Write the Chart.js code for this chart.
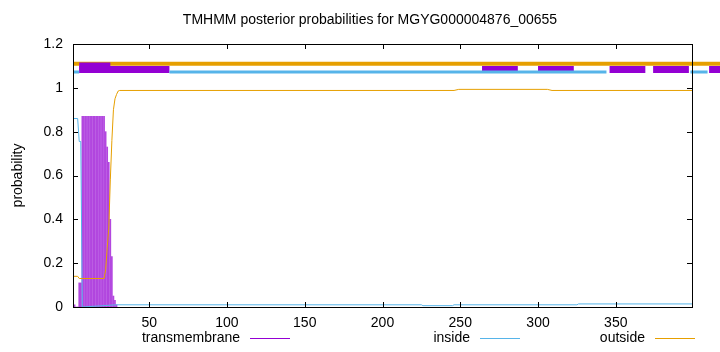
<!DOCTYPE html>
<html>
<head>
<meta charset="utf-8">
<script src="https://cdn.jsdelivr.net/npm/chart.js@4.4.0/dist/chart.umd.min.js"></script>
<style>
    html, body { margin: 0; padding: 0; background: #fff; }
    #wrap { width: 720px; height: 352px; }
</style>
</head>
<body>
<div id="wrap"><canvas id="tmhmmChart" width="720" height="352"></canvas></div>
<script>
const chartTitle = 'TMHMM posterior probabilities for MGYG000004876_00655';
const seqStart = 1;
const seqEnd = 399;
const xTicks = [50, 100, 150, 200, 250, 300, 350];
const yTicks = [0, 0.2, 0.4, 0.6, 0.8, 1, 1.2];

// prawdopodobienstwo TM dla kazdej reszty (dalej ~0)
const tmResidues = [1, 2, 3, 4, 5, 6, 7, 8, 9, 10, 11, 12, 13, 14, 15, 16, 17, 18, 19, 20, 21, 22, 23, 24, 25, 26, 27, 28, 29];
const tmProb = [0, 0.01, 0, 0, 0.11, 0.11, 0.87, 0.87, 0.87, 0.87, 0.87, 0.87, 0.87, 0.87, 0.87, 0.87, 0.87, 0.87, 0.87, 0.87, 0.87, 0.8, 0.73, 0.66, 0.4, 0.23, 0.05, 0.03, 0.01];

// inside / outside - punkty zalamania linii
const insideX = [1, 4, 5, 6, 7, 29, 225, 226, 245, 246, 325, 326, 399];
const insideY = [0.86, 0.86, 0.755, 0.755, 0, 0.01, 0.01, 0.006, 0.006, 0.01, 0.01, 0.014, 0.014];
const outsideX = [1, 4, 5, 21, 22, 23, 24, 25, 26, 27, 28, 29, 30, 31, 246, 249, 306, 309, 399];
const outsideY = [0.14, 0.14, 0.13, 0.13, 0.17, 0.27, 0.36, 0.58, 0.76, 0.9, 0.95, 0.97, 0.985, 0.988, 0.988, 0.993, 0.993, 0.988, 0.988];

// przewidziana topologia (paski u gory)
const outsideTopSpans = [[1, 420]];
const tmTopSpans = [[5, 63], [264, 287], [300, 323], [346, 369], [374, 397], [410, 420]];
const tmTopTallSpans = [[5, 25]];
const insideTopSpans = [[1, 5], [63, 344], [398, 409]];
const outsideTopLevel = 1.11;
const tmTopLevel = 1.0836;
const tmTopTallLevel = 1.0916;
const insideTopLevel = 1.0722;

const colTM = '#9400D3';
const colInside = '#56B4E9';
const colOutside = '#E69F00';
const fontFamily = '"Liberation Sans", Arial, sans-serif';

// odcinki od prawej do lewej - dane nieposortowane, wiec Chart.js rysuje tez czesc poza osia
function spansToPoints(spans, level) {
    const pts = [];
    spans.slice().reverse().forEach(([a, b]) => {
        pts.push({ x: a, y: level }, { x: b, y: level }, { x: b, y: null });
    });
    return pts;
}

function topBar(spans, level, color, width, order) {
    return {
        type: 'line',
        label: '',
        data: spansToPoints(spans, level),
        borderColor: color,
        borderWidth: width,
        borderCapStyle: 'butt',
        pointRadius: 0,
        spanGaps: false,
        clip: false,
        order: order
    };
}

// ramka, znaczniki osi, tytul i legenda w stylu gnuplota
const gnuplotFrame = {
    id: 'gnuplotFrame',
    afterDatasetsDraw(chart) {
        const { ctx, chartArea: a, scales: { x, y } } = chart;
        ctx.save();
        ctx.strokeStyle = '#000';
        ctx.lineWidth = 1;
        ctx.beginPath();
        xTicks.forEach(v => {
            const px = Math.round(x.getPixelForValue(v)) + 0.5;
            ctx.moveTo(px, a.bottom); ctx.lineTo(px, a.bottom - 5);
            ctx.moveTo(px, a.top); ctx.lineTo(px, a.top + 5);
        });
        yTicks.forEach(v => {
            const py = Math.round(y.getPixelForValue(v)) + 0.5;
            ctx.moveTo(a.left, py); ctx.lineTo(a.left + 5, py);
            ctx.moveTo(a.right, py); ctx.lineTo(a.right - 5, py);
        });
        ctx.stroke();
        ctx.strokeRect(a.left + 0.5, a.top + 0.5, a.right - a.left, a.bottom - a.top);
        ctx.restore();
    },
    afterDraw(chart) {
        const ctx = chart.ctx;
        const entries = [
            { label: 'transmembrane', color: colTM, right: 240 },
            { label: 'inside', color: colInside, right: 470 },
            { label: 'outside', color: colOutside, right: 645 }
        ];
        ctx.save();
        ctx.font = '14px ' + fontFamily;
        ctx.fillStyle = '#000';
        ctx.textBaseline = 'middle';
        ctx.textAlign = 'center';
        ctx.fillText(chartTitle, 370, 20);
        ctx.textAlign = 'right';
        entries.forEach(e => {
            ctx.fillStyle = '#000';
            ctx.fillText(e.label, e.right, 338);
            ctx.strokeStyle = e.color;
            ctx.lineWidth = 1;
            ctx.beginPath();
            ctx.moveTo(e.right + 10, 338.5);
            ctx.lineTo(e.right + 50, 338.5);
            ctx.stroke();
        });
        ctx.restore();
    }
};

const ctx = document.getElementById('tmhmmChart').getContext('2d');

new Chart(ctx, {
    type: 'line',
    data: {
        datasets: [
            {
                type: 'bar',
                label: 'transmembrane',
                data: tmResidues.map((r, i) => ({ x: r, y: tmProb[i] })),
                backgroundColor: 'rgba(148, 0, 211, 0.72)',
                barThickness: 1,
                grouped: false,
                order: 6
            },
            {
                label: 'inside',
                data: insideX.map((v, i) => ({ x: v, y: insideY[i] })),
                borderColor: colInside,
                borderWidth: 1,
                pointRadius: 0,
                order: 5
            },
            {
                label: 'outside',
                data: outsideX.map((v, i) => ({ x: v, y: outsideY[i] })),
                borderColor: colOutside,
                borderWidth: 1,
                pointRadius: 0,
                order: 4
            },
            topBar(outsideTopSpans, outsideTopLevel, colOutside, 4, 3),
            topBar(tmTopSpans, tmTopLevel, colTM, 7, 2),
            topBar(tmTopTallSpans, tmTopTallLevel, colTM, 10.5, 2),
            topBar(insideTopSpans, insideTopLevel, colInside, 3, 1)
        ]
    },
    options: {
        responsive: false,
        animation: false,
        layout: { padding: { left: 0, right: 28, top: 44, bottom: 25 } },
        plugins: {
            legend: { display: false },
            tooltip: { enabled: false },
            title: { display: false }
        },
        scales: {
            x: {
                type: 'linear',
                min: seqStart,
                max: seqEnd,
                offset: false,
                afterBuildTicks: s => { s.ticks = xTicks.map(v => ({ value: v })); },
                afterFit: s => { s.height = 20; },
                grid: { display: false, drawTicks: false },
                border: { display: false },
                ticks: {
                    color: '#000',
                    padding: 8,
                    maxRotation: 0,
                    font: { family: fontFamily, size: 14 }
                }
            },
            y: {
                min: 0,
                max: 1.2,
                afterBuildTicks: s => { s.ticks = yTicks.map(v => ({ value: v })); },
                afterFit: s => { s.width = 73; },
                grid: { display: false, drawTicks: false },
                border: { display: false },
                title: {
                    display: true,
                    text: 'probability',
                    color: '#000',
                    font: { family: fontFamily, size: 14 },
                    padding: { top: 10, bottom: 0 }
                },
                ticks: {
                    color: '#000',
                    padding: 10,
                    font: { family: fontFamily, size: 14 },
                    callback: v => String(+v.toFixed(1))
                }
            }
        }
    },
    plugins: [gnuplotFrame]
});
</script>
</body>
</html>
